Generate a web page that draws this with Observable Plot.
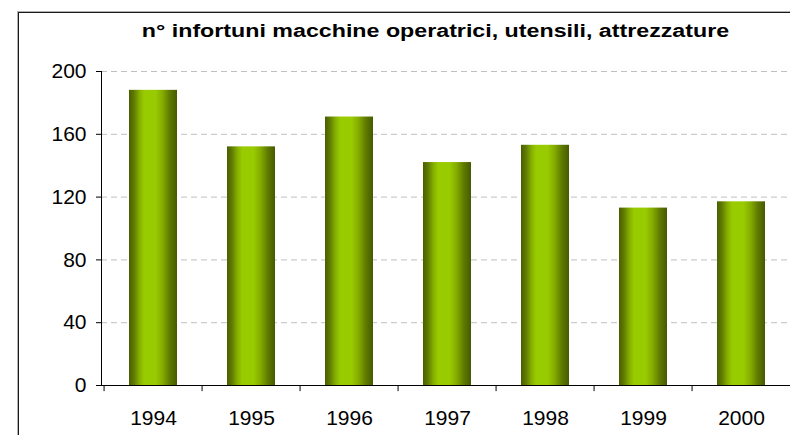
<!DOCTYPE html>
<html>
<head>
<meta charset="utf-8">
<script src="https://cdn.jsdelivr.net/npm/d3@7"></script>
<script src="https://cdn.jsdelivr.net/npm/@observablehq/plot@0.6"></script>
<style>
  html, body { margin: 0; padding: 0; background: #fff; overflow: hidden; }
  #wrap { position: relative; width: 790px; height: 435px; font-family: "Liberation Sans", Arial, sans-serif; }
  #frame { position: absolute; left: 18px; top: 12px; width: 800px; height: 440px;
           border-left: 1px solid #1a1a1a; border-top: 1px solid #1a1a1a;
           box-shadow: -1px -1px 0 #b0b0b0; pointer-events: none; }
  #title { position: absolute; left: 0; width: 871px; top: 20px; text-align: center;
           font-weight: bold; font-size: 18px; line-height: 22px; color: #000;
           transform: scaleX(1.29); transform-origin: 435.5px 50%; white-space: nowrap; }
  #chart { position: absolute; left: 0; top: 0; }
</style>
</head>
<body>
<div id="wrap">
  <div id="chart"></div>
  <div id="frame"></div>
  <div id="title">n° infortuni macchine operatrici, utensili, attrezzature</div>
</div>
<script>
const years = ["1994", "1995", "1996", "1997", "1998", "1999", "2000"];
const injuries = [188, 152, 171, 142, 153, 113, 117];
const yTicks = [0, 40, 80, 120, 160, 200];
const gridTicks = [40, 80, 120, 160, 200];

const data = years.map((y, i) => ({year: y, value: injuries[i]}));

const xRange = [101, 793];
const paddingInner = 0.515;
const step = (xRange[1] - xRange[0]) / years.length;

const defs = () => {
  const ns = "http://www.w3.org/2000/svg";
  const d = document.createElementNS(ns, "defs");
  const g = document.createElementNS(ns, "linearGradient");
  g.setAttribute("id", "barGrad");
  g.setAttribute("x1", "0"); g.setAttribute("x2", "1");
  g.setAttribute("y1", "0"); g.setAttribute("y2", "0");
  const stops = [
    [0, "#4a5e00"], [0.1, "#5f7a00"], [0.22, "#86b000"], [0.32, "#99cc00"],
    [0.55, "#99cc00"], [0.7, "#84ab00"], [0.85, "#5f7a00"], [1, "#465a00"]
  ];
  for (const [o, c] of stops) {
    const s = document.createElementNS(ns, "stop");
    s.setAttribute("offset", o); s.setAttribute("stop-color", c);
    g.appendChild(s);
  }
  d.appendChild(g);
  return d;
};

const plot = Plot.plot({
  width: 790,
  height: 435,
  marginLeft: 101,
  marginRight: 0,
  marginTop: 71,
  marginBottom: 50,
  style: {fontFamily: "'Liberation Sans', Arial, sans-serif", fontSize: "21px", color: "#000", background: "transparent"},
  x: {domain: years, range: xRange, paddingInner: paddingInner, paddingOuter: paddingInner / 2, label: null},
  y: {domain: [0, 200], label: null},
  marks: [
    defs,
    Plot.gridY(gridTicks, {stroke: "#c0c0c0", strokeOpacity: 1, strokeDasharray: "6,4"}),
    Plot.barY(data, {x: "year", y: "value", fill: "url(#barGrad)"}),
    Plot.ruleY([0], {stroke: "#000"}),
    Plot.frame({anchor: "left", stroke: "#000"}),
    Plot.ruleX(years, {x: d => d, y1: 0, y2: -3.9, dx: -step / 2, stroke: "#000"}),
    Plot.axisY(yTicks, {tickSize: 5, tickPadding: 10, fontSize: 21, label: null}),
    Plot.axisX({tickSize: 0, tickPadding: 25, fontSize: 21, label: null})
  ]
});
document.getElementById("chart").appendChild(plot);
</script>
</body>
</html>
